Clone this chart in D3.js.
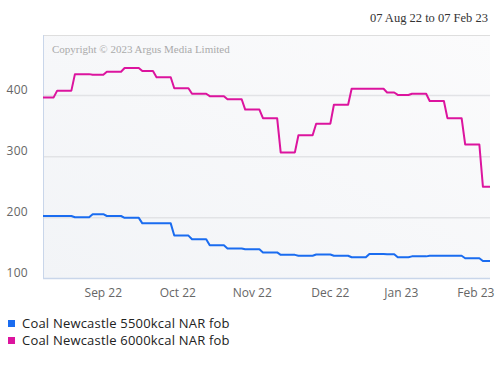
<!DOCTYPE html>
<html>
<head>
<meta charset="utf-8">
<script src="https://cdn.jsdelivr.net/npm/d3@7"></script>
<style>
  body { margin: 0; background: #fff; }
  #vis text { font-family: "Open Sans", sans-serif; }
</style>
</head>
<body>
<div id="vis"></div>
<script>
// weekly assessment dates (value holds until next date)
const changeDates = ["2022-08-08","2022-08-12","2022-08-19","2022-08-26","2022-09-02","2022-09-09",
  "2022-09-16","2022-09-23","2022-09-30","2022-10-07","2022-10-14","2022-10-21","2022-10-28",
  "2022-11-04","2022-11-11","2022-11-18","2022-11-25","2022-12-02","2022-12-09","2022-12-16",
  "2022-12-23","2022-12-30","2023-01-06","2023-01-13","2023-01-20","2023-01-27","2023-02-03"];
const coal5500 = [203, 203, 201, 206, 203, 200, 191, 191, 171, 165, 155, 150, 148.5, 143.5, 139.5,
  138, 140, 138, 135.5, 141, 140.5, 135.5, 137, 138, 138, 134, 129.5];
const coal6000 = [397, 408, 435, 434, 439, 445, 440, 430, 412, 403, 399, 394, 377, 363, 307, 335,
  354, 385, 411, 411, 405, 401, 403, 391, 363, 320, 251];
const holidays = ["2022-08-29","2022-09-19","2022-12-26","2022-12-27","2023-01-02"];
const startDay = "2022-08-08", endDay = "2023-02-07";
const yTicks = [100, 200, 300, 400];
const monthStarts = ["2022-09-01","2022-10-01","2022-11-01","2022-12-01","2023-01-01","2023-02-01"];
const monthLabels = ["Sep 22","Oct 22","Nov 22","Dec 22","Jan 23","Feb 23"];
const seriesNames = ["Coal Newcastle 5500kcal NAR fob", "Coal Newcastle 6000kcal NAR fob"];
const seriesColors = ["#1a6cf0", "#dc149e"];

const W = 500, H = 368;
const padL = 43, padR = 490, padT = 35, padB = 279;
const parse = d3.utcParse("%Y-%m-%d"), fmt = d3.utcFormat("%Y-%m-%d");

// trading days only (weekends and holidays dropped)
let days = d3.utcDay.range(parse(startDay), d3.utcDay.offset(parse(endDay), 1))
  .filter(d => d.getUTCDay() != 0 && d.getUTCDay() != 6 && holidays.indexOf(fmt(d)) < 0);
let dayIndex = {};
days.forEach((d, i) => dayIndex[fmt(d)] = i);
function idxOf(s) {
  // first trading day on or after s
  let d = parse(s);
  while (dayIndex[fmt(d)] === undefined) d = d3.utcDay.offset(d, 1);
  return dayIndex[fmt(d)];
}

const x = d3.scaleLinear().domain([0, days.length - 1]).range([padL, padR]);
const y = d3.scaleLinear().domain([100, 500]).range([padB, padB - (padB - padT) * 401 / 400]);

const svg = d3.select("#vis").append("svg").attr("width", W).attr("height", H);

const grad = svg.append("defs").append("linearGradient").attr("id", "bg")
  .attr("x1", "100%").attr("y1", "0%").attr("x2", "0%").attr("y2", "100%");
grad.append("stop").attr("offset", "0%").attr("stop-color", "#fbfbfc");
grad.append("stop").attr("offset", "100%").attr("stop-color", "#f2f4f7");

svg.append("rect").attr("x", padL).attr("y", padT).attr("width", padR - padL).attr("height", padB - padT)
  .attr("fill", "url(#bg)");

svg.append("line").attr("x1", padL).attr("x2", padR).attr("y1", padT + 0.5).attr("y2", padT + 0.5)
  .attr("stroke", "#dedede");

svg.append("text").attr("x", 488).attr("y", 22).attr("text-anchor", "end")
  .style("font-family", "'Liberation Serif', serif").style("font-size", "12.5px").attr("fill", "#333")
  .text("07 Aug 22 to 07 Feb 23");

svg.append("text").attr("x", 52).attr("y", 53)
  .style("font-family", "'Liberation Serif', serif").style("font-size", "11px").attr("fill", "#aaa")
  .text("Copyright \u00a9 2023 Argus Media Limited");

// grid + y labels
svg.selectAll(".grid").data(yTicks.filter(v => v > 100)).enter().append("line")
  .attr("x1", padL).attr("x2", padR)
  .attr("y1", d => y(d)).attr("y2", d => y(d))
  .attr("stroke", "#e2e3e6").attr("stroke-width", 1.5);

svg.selectAll(".ylab").data(yTicks).enter().append("text")
  .attr("x", 28).attr("y", d => y(d) - 2).attr("text-anchor", "end")
  .style("font-size", "12px").attr("fill", "#666").style("letter-spacing", "0.3px")
  .text(d => d);

// axis borders
svg.append("line").attr("x1", padL + 0.5).attr("x2", padL + 0.5).attr("y1", padT).attr("y2", padB)
  .attr("stroke", "#c9d6ea");
svg.append("line").attr("x1", padL).attr("x2", padR).attr("y1", padB - 0.5).attr("y2", padB - 0.5)
  .attr("stroke", "#c9d6ea").attr("stroke-width", 1.5);

svg.selectAll(".xlab").data(monthStarts).enter().append("text")
  .attr("x", d => x(idxOf(d))).attr("y", 297).attr("text-anchor", "middle")
  .style("font-size", "12px").attr("fill", "#666")
  .text((d, i) => monthLabels[i]);

// lines
function stepPoints(vals) {
  let pts = [];
  for (let i = 0; i < vals.length; i++) {
    let a = idxOf(changeDates[i]);
    let b = i + 1 < vals.length ? idxOf(changeDates[i + 1]) - 1 : days.length - 1;
    pts.push([a, vals[i]]);
    if (b > a) pts.push([b, vals[i]]);
  }
  return pts;
}
const line = d3.line().x(d => x(d[0])).y(d => y(d[1]));

[coal5500, coal6000].forEach((vals, k) => {
  svg.append("path").attr("d", line(stepPoints(vals)))
    .attr("fill", "none").attr("stroke", seriesColors[k]).attr("stroke-width", 2)
    .attr("stroke-linejoin", "round");
});

// legend
const lg = svg.selectAll(".lg").data(seriesNames).enter().append("g")
  .attr("transform", (d, i) => "translate(8," + (320 + i * 17) + ")");
lg.append("rect").attr("width", 7).attr("height", 7).attr("fill", (d, i) => seriesColors[i]);
lg.append("text").attr("x", 14).attr("y", 7.5).style("font-size", "13px").attr("fill", "#222")
  .style("letter-spacing", "0.2px")
  .text(d => d);
</script>
</body>
</html>
